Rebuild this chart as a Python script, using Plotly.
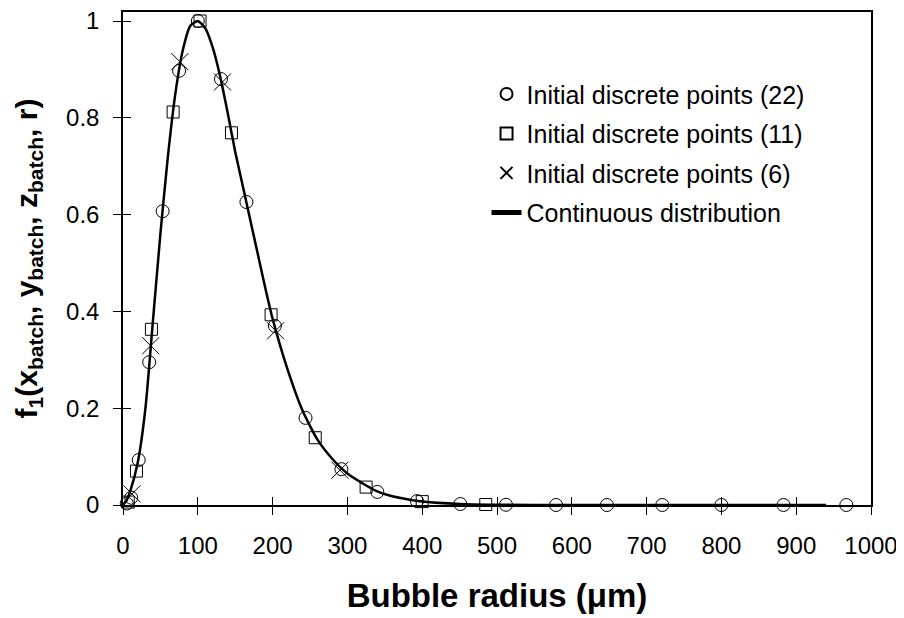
import plotly.graph_objects as go

# Data
x22 = [5, 11, 21, 35, 53, 75, 100, 131, 165, 203, 244, 292, 340, 393, 451, 512, 579, 647, 721, 800, 883, 967]
y22 = [0.003, 0.015, 0.093, 0.295, 0.607, 0.897, 1.0, 0.88, 0.626, 0.37, 0.18, 0.074, 0.027, 0.008, 0.002, 0.0005, 0, 0, 0, 0, 0, 0]

x11 = [7, 18, 38, 67, 103, 145, 198, 257, 325, 400, 485]
y11 = [0.006, 0.07, 0.363, 0.812, 1.0, 0.769, 0.393, 0.139, 0.037, 0.007, 0.001]

x6 = [12, 37, 76, 133, 204, 290]
y6 = [0.023, 0.329, 0.916, 0.874, 0.36, 0.072]

xc = [0, 5, 10, 20, 30, 40, 50, 60, 70, 80, 90, 100, 110, 120, 130, 140, 150, 160, 170, 180, 190,
      200, 220, 240, 260, 280, 300, 320, 340, 360, 380, 400, 450, 500, 600, 700, 800, 940]
yc = [0, 0.01, 0.03, 0.09, 0.2, 0.38, 0.56, 0.72, 0.85, 0.94, 0.99, 1.0, 0.985, 0.945, 0.885, 0.81, 0.73, 0.66, 0.59, 0.52, 0.45,
      0.385, 0.28, 0.195, 0.135, 0.095, 0.065, 0.045, 0.028, 0.018, 0.012, 0.007, 0.002, 0.0005, 0, 0, 0, 0]

x_ticks = [0, 100, 200, 300, 400, 500, 600, 700, 800, 900, 1000]
y_ticks = [0, 0.2, 0.4, 0.6, 0.8, 1]

FONT = "Liberation Sans, Arial, sans-serif"

fig = go.Figure()
fig.add_trace(go.Scatter(x=x22, y=y22, mode="markers", name="Initial discrete points (22)",
                         marker=dict(symbol="circle-open", size=13, color="black", line=dict(width=1)),
                         cliponaxis=False, legendgroup="a"))
fig.add_trace(go.Scatter(x=x11, y=y11, mode="markers", name="Initial discrete points (11)",
                         marker=dict(symbol="square-open", size=12, color="black", line=dict(width=1)),
                         cliponaxis=False, legendgroup="b"))
fig.add_trace(go.Scatter(x=x6, y=y6, mode="markers", name="Initial discrete points (6)",
                         marker=dict(symbol="x-thin-open", size=17, color="black", line=dict(width=1)),
                         cliponaxis=False, legendgroup="c"))
fig.add_trace(go.Scatter(x=xc, y=yc, mode="lines", name="Continuous distribution",
                         line=dict(color="black", width=2.5, shape="spline", smoothing=0.6),
                         cliponaxis=False, legendgroup="d"))

fig.update_layout(
    width=896, height=610,
    margin=dict(l=115, r=33, t=4, b=113),
    paper_bgcolor="white", plot_bgcolor="white",
    font=dict(family=FONT, color="black", size=24),
    showlegend=True,
    legend=dict(x=0.486, y=0.88, xanchor="left", yanchor="top",
                font=dict(size=25, family=FONT), bgcolor="rgba(0,0,0,0)",
                tracegroupgap=4, itemsizing="constant", traceorder="grouped"),
    xaxis=dict(range=[0, 1000], tickvals=x_ticks, ticks="outside", ticklen=8, tickwidth=1, tickcolor="black",
               showline=True, linecolor="black", linewidth=1.5, mirror=True, showgrid=False, zeroline=False,
               tickfont=dict(size=24), automargin=False, ticklabelstandoff=10, ticklabeloverflow="allow",
               title=dict(text="<b>Bubble radius (μm)</b>", font=dict(size=33), standoff=26)),
    yaxis=dict(range=[0, 1.0186], tickvals=y_ticks, ticks="outside", ticklen=8, tickwidth=1, tickcolor="black",
               showline=True, linecolor="black", linewidth=1.5, mirror=True, showgrid=False, zeroline=False,
               tickfont=dict(size=24), automargin=False, ticklabelstandoff=9, ticklabeloverflow="allow",
               title=dict(text="<b>f<sub>1</sub>(x<sub>batch</sub>, y<sub>batch</sub>, z<sub>batch</sub>, r)</b>",
                          font=dict(size=30), standoff=20)),
    xaxis2=dict(range=[0, 1000], tickvals=x_ticks, ticks="inside", ticklen=8, tickwidth=1, tickcolor="black",
                overlaying="x", anchor="y", side="bottom", showticklabels=False, showline=False,
                showgrid=False, zeroline=False),
    yaxis2=dict(range=[0, 1.0186], tickvals=y_ticks, ticks="inside", ticklen=8, tickwidth=1, tickcolor="black",
                overlaying="y", anchor="x", side="left", showticklabels=False, showline=False,
                showgrid=False, zeroline=False),
)
# invisible trace to activate the overlay axes
fig.add_trace(go.Scatter(x=[0], y=[0], xaxis="x2", yaxis="y2", mode="markers",
                         marker=dict(opacity=0), showlegend=False, hoverinfo="skip"))

fig.write_html("out.html")
